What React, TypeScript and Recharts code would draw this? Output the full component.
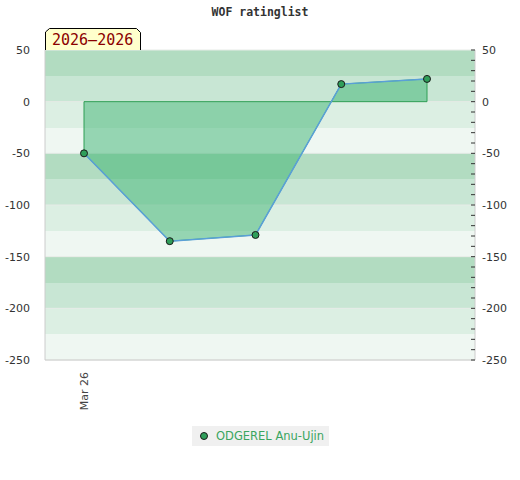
import React from 'react';
import {
  ComposedChart,
  Area,
  Line,
  XAxis,
  YAxis,
  ReferenceLine,
  CartesianGrid,
} from 'recharts';

const dates = ['Mar 26', 'Apr 26', 'May 26', 'Jun 26', 'Jul 26'];
const rating = [-50, -135, -129, 17, 22];
const shownDates = ['Mar 26'];

const majorTicks = [-250, -200, -150, -100, -50, 0, 50];
const minorTicks = [
  -250, -240, -230, -220, -210, -200, -190, -180, -170, -160, -150, -140, -130, -120, -110, -100,
  -90, -80, -70, -60, -50, -40, -30, -20, -10, 0, 10, 20, 30, 40, 50,
];

const bandEdges = [-250, -225, -200, -175, -150, -125, -100, -75, -50, -25, 0, 25, 50];
const bandColors = ['#b2dcc1', '#c8e6d4', '#dcefe3', '#eff7f2'];

const data = dates.map((d, i) => ({ date: d, rating: rating[i] }));

const RightTick = (props: any) => {
  const { x, y, payload } = props;
  const v = payload.value;
  return (
    <g>
      <line x1={x - 4} x2={x} y1={y} y2={y} stroke="#333" strokeWidth={1} />
      {v % 50 === 0 && (
        <text x={x + 7} y={y} dy={4} fontSize={11} fill="#333" fontFamily="DejaVu Sans">
          {v}
        </text>
      )}
    </g>
  );
};

const DateTick = (props: any) => {
  const { x, y, payload } = props;
  return (
    <text
      x={x}
      y={y}
      transform={`rotate(-90 ${x} ${y})`}
      textAnchor="end"
      dy={4}
      dx={-4}
      fontSize={11}
      fill="#444"
      fontFamily="DejaVu Sans"
    >
      {payload.value}
    </text>
  );
};

export default function App() {
  const first = dates[0];
  const last = dates[dates.length - 1];
  return (
    <div style={{ position: 'absolute', left: 0, top: 0, width: 520, height: 480, background: '#fff' }}>
      <div
        style={{
          position: 'absolute',
          left: 0,
          top: 5,
          width: 520,
          textAlign: 'center',
          fontFamily: 'DejaVu Sans Mono',
          fontWeight: 'bold',
          fontSize: 11.5,
          color: '#333',
        }}
      >
        WOF ratinglist
      </div>
      <ComposedChart
        width={520}
        height={480}
        data={data}
        margin={{ top: 50, right: 0, bottom: 60, left: 0 }}
      >
        <CartesianGrid
          vertical={false}
          yAxisId="left"
          horizontalValues={bandEdges}
          horizontalFill={bandColors}
          fillOpacity={1}
          stroke="none"
        />
        <CartesianGrid vertical={false} stroke="#e6ebe7" yAxisId="left" />
        <XAxis
          dataKey="date"
          padding={{ left: 39, right: 48 }}
          ticks={shownDates}
          tick={<DateTick />}
          tickLine={false}
          axisLine={{ stroke: '#ccc' }}
          height={60}
          interval={0}
        />
        <XAxis xAxisId="top" orientation="top" dataKey="date" height={0} tick={false} tickLine={false} axisLine={{ stroke: '#ccc' }} />
        <YAxis
          yAxisId="left"
          domain={[-250, 50]}
          ticks={majorTicks}
          width={45}
          tickLine={false}
          axisLine={{ stroke: '#ccc' }}
          tick={{ fontSize: 11, fill: '#333', fontFamily: 'DejaVu Sans' }}
          tickMargin={9}
        />
        <YAxis
          yAxisId="right"
          orientation="right"
          domain={[-250, 50]}
          ticks={minorTicks}
          width={45}
          tickLine={false}
          tickSize={0}
          tickMargin={0}
          axisLine={{ stroke: '#ccc' }}
          tick={RightTick}
          interval={0}
        />
        <Area
          yAxisId="left"
          dataKey="rating"
          baseValue={0}
          type="linear"
          fill="#3cb371"
          fillOpacity={0.5}
          stroke="#3cb371"
          isAnimationActive={false}
        />
        <ReferenceLine
          yAxisId="left"
          segment={[{ x: first, y: 0 }, { x: last, y: 0 }]}
          stroke="#2e9e55"
        />
        <ReferenceLine
          yAxisId="left"
          segment={[{ x: first, y: 0 }, { x: first, y: rating[0] }]}
          stroke="#2e9e55"
        />
        <ReferenceLine
          yAxisId="left"
          segment={[{ x: last, y: 0 }, { x: last, y: rating[rating.length - 1] }]}
          stroke="#2e9e55"
        />
        <Line
          yAxisId="right"
          dataKey="rating"
          type="linear"
          stroke="#5a9fd8"
          strokeWidth={1.5}
          dot={{ r: 3.5, fill: '#2f9e5a', stroke: '#1a1a1a', strokeWidth: 1 }}
          isAnimationActive={false}
        />
      </ComposedChart>
      <svg style={{ position: 'absolute', left: 0, top: 0 }} width={160} height={60}>
        <path d="M45.5 50 L45.5 32 L49.5 28.5 L136.5 28.5 L140.5 32.5 L140.5 50" fill="#ffffcc" stroke="#000" strokeWidth={1} />
        <text x={52} y={45} fontSize={15} fill="#8b0000" fontFamily="DejaVu Sans Mono">
          2026–2026
        </text>
      </svg>
      <div
        style={{
          position: 'absolute',
          left: 192,
          top: 426,
          width: 137,
          height: 20,
          background: '#f0f0f0',
          display: 'flex',
          alignItems: 'center',
          fontFamily: 'DejaVu Sans',
          fontSize: 11.5,
          color: '#3aa55f',
        }}
      >
        <svg width={24} height={20}>
          <circle cx={12} cy={10} r={3.5} fill="#2f9e5a" stroke="#1a1a1a" strokeWidth={1} />
        </svg>
        <span>ODGEREL Anu-Ujin</span>
      </div>
    </div>
  );
}
